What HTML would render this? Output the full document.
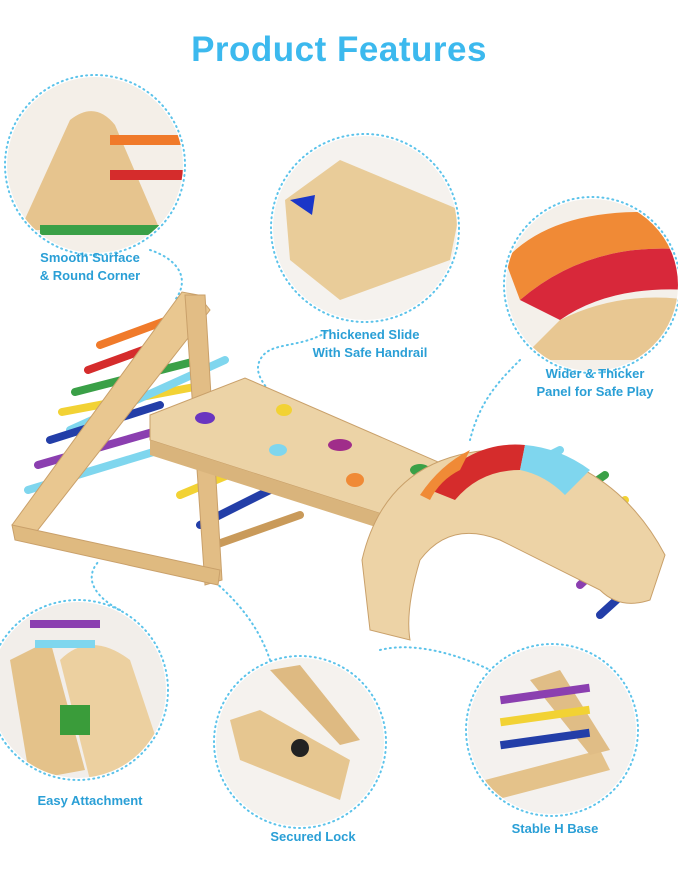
<!DOCTYPE html>
<html><head><meta charset="utf-8"><style>
html,body{margin:0;padding:0;background:#fff;}
body{width:678px;height:879px;position:relative;overflow:hidden;font-family:"Liberation Sans",sans-serif;}
.t{position:absolute;left:0;width:678px;text-align:center;top:30px;font-size:35px;font-weight:bold;color:#3cb9ee;letter-spacing:0.5px;}
.l{position:absolute;color:#2a9fd6;font-weight:bold;font-size:13px;text-align:center;line-height:18px;}
</style></head><body>
<svg width="678" height="879" style="position:absolute;left:0;top:0">
<defs>
<clipPath id="c1"><circle cx="95" cy="165" r="88"/></clipPath>
<clipPath id="c2"><circle cx="365" cy="228" r="92"/></clipPath>
<clipPath id="c3"><circle cx="592" cy="285" r="86"/></clipPath>
<clipPath id="c4"><circle cx="78" cy="690" r="88"/></clipPath>
<clipPath id="c5"><circle cx="300" cy="742" r="84"/></clipPath>
<clipPath id="c6"><circle cx="552" cy="730" r="84"/></clipPath>
</defs>
<g fill="none" stroke="#5cc3ea" stroke-width="2" stroke-dasharray="1 4" stroke-linecap="round">
<circle cx="95" cy="165" r="90"/>
<circle cx="365" cy="228" r="94"/>
<circle cx="592" cy="285" r="88"/>
<circle cx="78" cy="690" r="90"/>
<circle cx="300" cy="742" r="86"/>
<circle cx="552" cy="730" r="86"/>
<path d="M150 250 C180 260 190 280 175 300"/>
<path d="M330 330 C300 350 270 340 260 360 C250 380 280 395 285 420"/>
<path d="M520 360 C500 380 480 400 470 440"/>
<path d="M200 570 C240 600 260 630 270 660"/>
<path d="M120 610 C100 600 80 580 100 560"/>
<path d="M380 650 C420 640 470 660 490 670"/>
</g>
<!-- circle contents -->
<g clip-path="url(#c1)"><rect x="0" y="70" width="200" height="200" fill="#f4efe8"/>
<path d="M20 230 L70 120 Q95 100 115 125 L160 230 Z" fill="#e6c48e"/>
<rect x="110" y="135" width="90" height="10" fill="#f07a2a"/><rect x="110" y="170" width="90" height="10" fill="#d52c2c"/><rect x="40" y="225" width="140" height="10" fill="#3aa047"/></g>
<g clip-path="url(#c2)"><rect x="260" y="130" width="220" height="200" fill="#f5f2ee"/>
<path d="M285 200 L340 160 L460 210 L450 260 L340 300 L290 260 Z" fill="#e9cc99"/><path d="M290 200 L315 195 L312 215 Z" fill="#1a36c8"/></g>
<g clip-path="url(#c3)"><rect x="500" y="195" width="190" height="180" fill="#f4f0ea"/>
<path d="M505 260 Q560 200 690 215 L690 250 Q590 240 520 300 Z" fill="#f08a36"/><path d="M520 300 Q590 240 690 250 L690 290 Q610 285 560 320 Z" fill="#d8283a"/><path d="M560 320 Q620 290 690 300 L690 360 L520 360 Z" fill="#e8c792"/></g>
<g clip-path="url(#c4)"><rect x="-20" y="600" width="200" height="190" fill="#f2eeea"/>
<path d="M10 660 L50 640 L85 770 L30 780 Z" fill="#e4c28a"/><path d="M60 660 Q90 630 130 660 L170 780 L90 780 Z" fill="#ecd0a0"/>
<rect x="60" y="705" width="30" height="30" fill="#3a9c3a"/><rect x="30" y="620" width="70" height="8" fill="#8b3fb0"/><rect x="35" y="640" width="60" height="8" fill="#7fd6ee"/></g>
<g clip-path="url(#c5)"><rect x="210" y="650" width="180" height="180" fill="#f5f2ee"/>
<path d="M230 720 L260 710 L350 760 L340 800 L240 760 Z" fill="#e6c690"/><path d="M270 670 L300 665 L360 740 L340 745 Z" fill="#deba82"/><circle cx="300" cy="748" r="9" fill="#222"/></g>
<g clip-path="url(#c6)"><rect x="460" y="640" width="190" height="180" fill="#f4f1ee"/>
<path d="M485 780 L600 750 L610 770 L495 800 Z" fill="#e4c28a"/><path d="M530 680 L560 670 L610 750 L590 755 Z" fill="#e0bd86"/>
<rect x="500" y="690" width="90" height="8" fill="#8b3fb0" transform="rotate(-8 545 694)"/><rect x="500" y="712" width="90" height="8" fill="#f2d234" transform="rotate(-8 545 716)"/><rect x="500" y="735" width="90" height="8" fill="#233ea8" transform="rotate(-8 545 739)"/></g>
<!-- main product -->
<g>
<!-- rungs -->
<g stroke-width="8" stroke-linecap="round">
<line x1="100" y1="345" x2="195" y2="310" stroke="#f07a2a"/>
<line x1="88" y1="370" x2="198" y2="330" stroke="#d52c2c"/>
<line x1="75" y1="392" x2="200" y2="360" stroke="#3aa047"/>
<line x1="62" y1="412" x2="205" y2="385" stroke="#f2d234"/>
<line x1="70" y1="430" x2="225" y2="360" stroke="#7fd6ee"/>
<line x1="50" y1="440" x2="160" y2="405" stroke="#233ea8"/>
<line x1="38" y1="465" x2="160" y2="430" stroke="#8b3fb0"/>
<line x1="28" y1="490" x2="160" y2="450" stroke="#7fd6ee"/>
<line x1="180" y1="495" x2="240" y2="470" stroke="#f2d234"/>
<line x1="200" y1="525" x2="280" y2="485" stroke="#233ea8"/>
<line x1="215" y1="545" x2="300" y2="515" stroke="#c99a5a"/>
<line x1="520" y1="470" x2="560" y2="450" stroke="#7fd6ee"/>
<line x1="540" y1="520" x2="605" y2="475" stroke="#3aa047"/>
<line x1="565" y1="550" x2="625" y2="500" stroke="#f2d234"/>
<line x1="580" y1="585" x2="640" y2="530" stroke="#8b3fb0"/>
<line x1="600" y1="615" x2="655" y2="565" stroke="#233ea8"/>
<line x1="395" y1="560" x2="450" y2="520" stroke="#233ea8"/>
</g>
<path d="M12 525 L182 292 L198 295 L210 310 L30 540 Z" fill="#e9c790" stroke="#c9a06a"/>
<path d="M185 295 L205 295 L222 580 L205 585 Z" fill="#e2bd85" stroke="#c9a06a"/>
<path d="M12 525 L220 570 L218 585 L15 540 Z" fill="#dfba80" stroke="#c9a06a"/>
<!-- slide -->
<path d="M150 415 L245 378 L475 478 L470 505 L385 515 L150 440 Z" fill="#ecd3a6" stroke="#c9a06a"/>
<path d="M150 440 L385 515 L470 505 L470 520 L385 530 L150 455 Z" fill="#d9b47c"/>
<g><ellipse cx="205" cy="418" rx="10" ry="6" fill="#6a35c0"/><ellipse cx="284" cy="410" rx="8" ry="6" fill="#f2d234"/><ellipse cx="278" cy="450" rx="9" ry="6" fill="#7fd6ee"/><ellipse cx="340" cy="445" rx="12" ry="6" fill="#a02d8a"/><ellipse cx="355" cy="480" rx="9" ry="7" fill="#f08a36"/><ellipse cx="420" cy="470" rx="10" ry="6" fill="#3aa047"/></g>
<!-- arch -->
<path d="M362 560 Q390 440 530 450 Q620 470 665 555 L650 600 Q620 610 600 590 L500 540 Q450 520 420 560 Q405 610 410 640 L370 630 Z" fill="#edd3a6" stroke="#c9a06a"/>
<path d="M430 490 Q470 440 525 445 L520 470 Q480 470 455 500 Z" fill="#d52c2c"/>
<path d="M420 495 Q440 465 470 450 L460 470 Q440 480 430 500 Z" fill="#f08a36"/>
<path d="M525 445 Q560 448 590 470 L565 495 Q545 475 520 470 Z" fill="#7fd6ee"/>
</g>
</svg>
<div class="t">Product Features</div>
<div class="l" style="left:20px;top:249px;width:140px;">Smooth Surface<br>&amp; Round Corner</div>
<div class="l" style="left:295px;top:326px;width:150px;">Thickened Slide<br>With Safe Handrail</div>
<div class="l" style="left:515px;top:365px;width:160px;">Wider &amp; Thicker<br>Panel for Safe Play</div>
<div class="l" style="left:20px;top:792px;width:140px;">Easy Attachment</div>
<div class="l" style="left:243px;top:828px;width:140px;">Secured Lock</div>
<div class="l" style="left:485px;top:820px;width:140px;">Stable H Base</div>
</body></html>
